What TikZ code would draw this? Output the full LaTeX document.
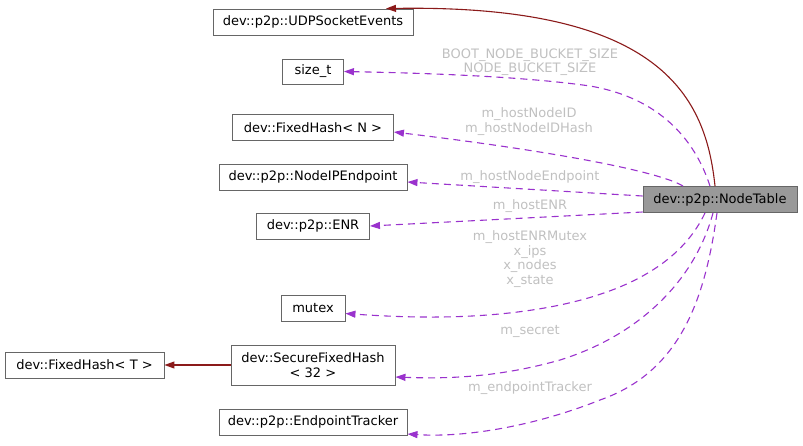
\documentclass[tikz,border=0pt]{standalone}
\usepackage{fontspec}
\setmainfont{DejaVu Sans}
\usetikzlibrary{arrows.meta}
\definecolor{boxline}{HTML}{666666}
\definecolor{ntfill}{HTML}{999999}
\definecolor{inhred}{HTML}{8B1A1A}
\definecolor{usepurple}{HTML}{9A32CD}
\definecolor{lblgrey}{HTML}{C0C0C0}
\begin{document}
\begin{tikzpicture}[x=1pt,y=-1pt,
  box/.style={draw=boxline,line width=0.9pt,fill=white,inner sep=0pt,minimum height=26pt,
    font=\fontsize{13}{14.5}\selectfont,align=center},
  inh/.style={draw=inhred,line width=1.1pt,-{Triangle[length=10pt,width=7pt]}},
  usage/.style={draw=usepurple,line width=1.1pt,dash pattern=on 7pt off 5pt,-{Triangle[length=10pt,width=7pt]}},
  lbl/.style={text=lblgrey,font=\fontsize{13}{14.5}\selectfont,align=center,inner sep=0pt}]
\useasboundingbox (0,0) rectangle (803,445);
% nodes
\node[box,minimum width=200pt] (udp) at (313,22) {dev::p2p::UDPSocketEvents};
\node[box,minimum width=61pt,minimum height=25pt] (sizet) at (313,71.5) {size\_t};
\node[box,minimum width=161pt] (fhn) at (313,127.5) {dev::FixedHash< N >};
\node[box,minimum width=188pt] (nip) at (313,177) {dev::p2p::NodeIPEndpoint};
\node[box,minimum width=113pt] (enr) at (313,226) {dev::p2p::ENR};
\node[box,minimum width=154pt,fill=ntfill] (nt) at (720,199.5) {dev::p2p::NodeTable};
\node[box,minimum width=64pt] (mutex) at (313,308) {mutex};
\node[box,minimum width=159pt] (fht) at (84.5,365) {dev::FixedHash< T >};
\node[box,minimum width=164pt,minimum height=40pt] (sfh) at (313,365) {dev::SecureFixedHash\\< 32 >};
\node[box,minimum width=188pt] (ept) at (313,422) {dev::p2p::EndpointTracker};
% inheritance edges
\draw[inh] ([xshift=-5pt]nt.north) .. controls (706,100) and (665,4) .. ([xshift=73pt]udp.north);
\draw[inh] (sfh.west) -- (fht.east);
% usage edges
\draw[usage] ([xshift=-10pt]nt.north) .. controls (695,140) and (660,98) .. (590,86)
  .. controls (520,76) and (420,73) .. (sizet.east);
\draw[usage] ([xshift=-37pt]nt.north) .. controls (660,172) and (560,152) .. ([yshift=-4.5pt]fhn.east);
\draw[usage] ([yshift=3.5pt]nt.west) -- ([yshift=-5pt]nip.east);
\draw[usage] ([yshift=-12.5pt]nt.west) -- (enr.east);
\draw[usage] ([xshift=-15pt]nt.south) .. controls (685,255) and (640,290) .. (550,307)
  .. controls (480,320) and (410,318) .. ([yshift=-5.5pt]mutex.east);
\draw[usage] ([xshift=-7pt]nt.south) .. controls (695,280) and (640,335) .. (560,360)
  .. controls (500,377) and (450,379) .. ([yshift=-12pt]sfh.east);
\draw[usage] ([xshift=-3pt]nt.south) .. controls (705,300) and (680,372) .. (600,400)
  .. controls (540,424) and (470,438) .. ([yshift=-12pt]ept.east);
% labels
\node[lbl] (l1) at (530,62) {BOOT\_NODE\_BUCKET\_SIZE\\NODE\_BUCKET\_SIZE};
\node[lbl] (l2) at (529,121.5) {m\_hostNodeID\\m\_hostNodeIDHash};
\node[lbl] (l3) at (530,177) {m\_hostNodeEndpoint};
\node[lbl] (l4) at (530,206) {m\_hostENR};
\node[lbl] (l5) at (530,259) {m\_hostENRMutex\\x\_ips\\x\_nodes\\x\_state};
\node[lbl] (l6) at (530,331.5) {m\_secret};
\node[lbl] (l7) at (530,388) {m\_endpointTracker};
\end{tikzpicture}
\end{document}
